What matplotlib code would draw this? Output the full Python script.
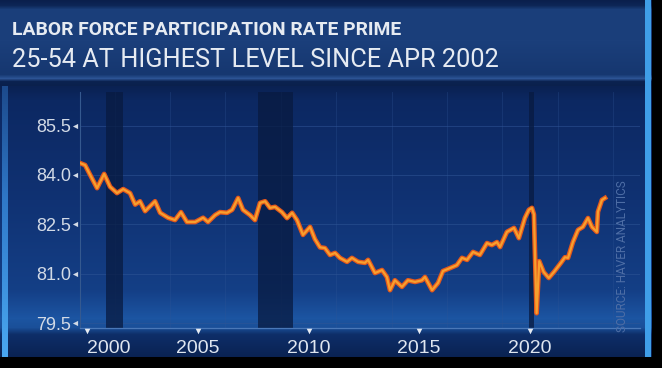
import numpy as np
import matplotlib
matplotlib.use("Agg")
import matplotlib.pyplot as plt
from matplotlib.colors import to_rgb


# prime-age (25-54) labor force participation rate
years = [1999.68, 1999.91, 2000.14, 2000.45, 2000.77, 2001.04, 2001.35, 2001.63,
         2001.94, 2002.17, 2002.39, 2002.62, 2003.07, 2003.30, 2003.66, 2003.97,
         2004.24, 2004.51, 2004.88, 2005.24, 2005.46, 2005.78, 2006.00, 2006.32,
         2006.55, 2006.82, 2007.04, 2007.36, 2007.58, 2007.81, 2008.04, 2008.26,
         2008.49, 2008.80, 2009.03, 2009.26, 2009.48, 2009.75, 2010.07, 2010.29,
         2010.52, 2010.74, 2010.97, 2011.20, 2011.42, 2011.74, 2011.96, 2012.24,
         2012.55, 2012.69, 2013.00, 2013.32, 2013.54, 2013.68, 2013.90, 2014.22,
         2014.49, 2014.81, 2015.12, 2015.26, 2015.58, 2015.85, 2016.07, 2016.39,
         2016.70, 2016.93, 2017.16, 2017.43, 2017.74, 2018.06, 2018.28, 2018.51,
         2018.65, 2018.96, 2019.28, 2019.50, 2019.77, 2019.95, 2020.09, 2020.18,
         2020.30, 2020.42, 2020.62, 2020.85, 2021.08, 2021.40, 2021.58, 2021.72,
         2021.94, 2022.17, 2022.39, 2022.62, 2022.80, 2023.02, 2023.07, 2023.25,
         2023.39]
rate = [84.36, 84.30, 84.00, 83.60, 84.03, 83.64, 83.45, 83.57,
        83.45, 83.10, 83.20, 82.90, 83.20, 82.85, 82.70, 82.63,
        82.87, 82.57, 82.57, 82.70, 82.57, 82.78, 82.87, 82.85,
        82.94, 83.30, 82.94, 82.78, 82.63, 83.15, 83.20, 83.00,
        83.03, 82.87, 82.69, 82.85, 82.63, 82.18, 82.42, 82.05,
        81.80, 81.78, 81.57, 81.63, 81.48, 81.36, 81.48, 81.36,
        81.33, 81.42, 81.02, 81.11, 80.90, 80.50, 80.80, 80.60,
        80.80, 80.75, 80.80, 80.90, 80.50, 80.72, 81.08, 81.17,
        81.26, 81.48, 81.42, 81.66, 81.57, 81.93, 81.87, 81.96,
        81.81, 82.27, 82.39, 82.08, 82.69, 82.94, 83.00, 82.80,
        79.80, 81.38, 81.05, 80.87, 81.05, 81.33, 81.50, 81.48,
        81.96, 82.33, 82.42, 82.69, 82.42, 82.27, 82.88, 83.24,
        83.30]

recessions = [(2000.86, 2001.63), (2007.72, 2009.30), (2019.95, 2020.18)]

yticks = [79.5, 81.0, 82.5, 84.0, 85.5]
xticks = [2000, 2005, 2010, 2015, 2020]

title1 = "LABOR FORCE PARTICIPATION RATE PRIME"
title2 = "25-54 AT HIGHEST LEVEL SINCE APR 2002"
source = "SOURCE: HAVER ANALYTICS"

W, H = 662, 368
fig = plt.figure(figsize=(W / 100, H / 100), dpi=100)
fig.patch.set_facecolor("black")


def vgrad(rows, cols):
    r = np.arange(H)
    out = np.zeros((H, 3))
    for k in range(3):
        out[:, k] = np.interp(r, rows, [to_rgb(c)[k] for c in cols])
    return out


def fit_width(txt, px):
    # shrink/grow the font so the text spans about px pixels
    r = fig.canvas.get_renderer()
    w = txt.get_window_extent(r).width
    txt.set_fontsize(txt.get_fontsize() * px / w)


# background panel, built as an image
img = np.zeros((H, W, 3))
top = vgrad([0, 5, 9, 40, 74, 78, 81, 86],
            ["#0a1f4c", "#0d2656", "#1a3e7a", "#1b3f7b", "#163770", "#2c5394", "#0b2250", "#0a204c"])
panel = vgrad([86, 100, 200, 290, 318, 327, 334, 357],
              ["#0a2152", "#0c2862", "#103273", "#143f86", "#1c55a2", "#1a4f98", "#0e2e68", "#0a2252"])
img[:86, :652] = top[:86, None, :]
img[86:357, :652] = panel[86:357, None, :]
stripe = vgrad([86, 200, 357], ["#1c4a8c", "#2f78c8", "#4aa8f2"])
img[86:357, 2:8] = stripe[86:357, None, :]
img[0:357, 645:651] = to_rgb("#3f9ee8")

bg = fig.add_axes([0, 0, 1, 1])
bg.imshow(img, extent=(0, W, H, 0), aspect="auto", interpolation="bilinear")
bg.set_xlim(0, W)
bg.set_ylim(H, 0)
bg.axis("off")

t1 = fig.text(12 / W, 1 - 35 / H, title1, fontsize=14, fontweight="bold", color="#e6ebf2",
              family=["Roboto", "DejaVu Sans"], va="baseline")
t2 = fig.text(12 / W, 1 - 67 / H, title2, fontsize=19, color="#e6ebf2",
              family=["Roboto", "DejaVu Sans"], va="baseline")
t3 = fig.text(622 / W, 1 - 256 / H, source, rotation=90, fontsize=8.5, color="#4e6ea6",
              family=["Roboto", "DejaVu Sans"], ha="center", va="center")
fit_width(t1, 390)
fit_width(t2, 486)

# plot area: x 80..640 px, y 92..328 px
ax = fig.add_axes([80 / W, 40 / H, 560 / W, 236 / H])
ax.patch.set_alpha(0)
ax.set_xlim(1999.68, 2024.97)
ax.set_ylim(79.35, 86.52)

for a, b in recessions:
    ax.axvspan(a, b, color="#081a40", alpha=0.75, lw=0, zorder=1)

for v in yticks:
    ax.axhline(v, color="#2f5596", lw=0.7, alpha=0.55, zorder=0)
for v in np.arange(2001.25, 2024, 2.5):
    ax.axvline(v, color="#2f5596", lw=0.6, alpha=0.35, zorder=0)

ax.plot(years, rate, color="#e4581c", lw=3.4, solid_joinstyle="round", zorder=3)
ax.plot(years, rate, color="#f7a02e", lw=1.6, solid_joinstyle="round", zorder=4)

for s in ["top", "right"]:
    ax.spines[s].set_visible(False)
ax.spines["left"].set_color("#35598f")
ax.spines["left"].set_linewidth(0.8)
ax.spines["bottom"].set_color("#4a78b8")
ax.spines["bottom"].set_linewidth(0.9)

ax.set_yticks(yticks)
ax.set_yticklabels([f"{v:.1f}" for v in yticks])
ax.set_xticks(xticks)
ax.set_xticklabels([str(v) for v in xticks])
ax.tick_params(axis="y", length=0, pad=6.5, labelsize=13, labelcolor="#d2dae6")
ax.tick_params(axis="x", length=0, pad=8.5, labelsize=14, labelcolor="#dfe6f0")
for t in ax.get_xticklabels() + ax.get_yticklabels():
    t.set_family(["Liberation Sans", "DejaVu Sans"])
ax.get_xticklabels()[0].set_ha("left")

# small triangle tick markers
ax.scatter(np.full(len(yticks), -5 / 560), yticks, marker="<", s=14, color="#d2dae6",
           transform=ax.get_yaxis_transform(), clip_on=False, zorder=5, lw=0)
ax.scatter(xticks, np.full(len(xticks), -3 / 236), marker="v", s=16, color="#e6ebf2",
           transform=ax.get_xaxis_transform(), clip_on=False, zorder=5, lw=0)

fig.savefig("out.png", dpi=100, facecolor=fig.get_facecolor())
